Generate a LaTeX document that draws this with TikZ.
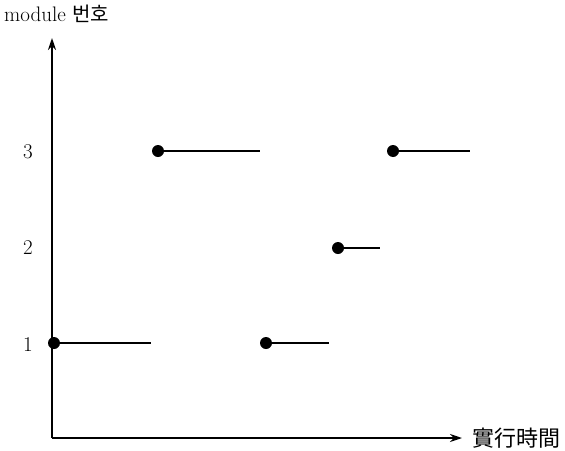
\documentclass[tikz,border=0pt]{standalone}
\usepackage{fontspec}
\newfontfamily\cjk{Noto Sans CJK KR}
\usetikzlibrary{arrows.meta}
\begin{document}
\begin{tikzpicture}[x=1pt,y=-1pt,
  axis/.style={line width=1.8pt,-{Stealth[length=12pt,width=8pt]}},
  seg/.style={line width=1.8pt},
  dot/.style={circle,fill=black,inner sep=0pt,minimum size=12pt},
  lab/.style={font=\fontsize{21}{21}\selectfont,inner sep=0pt}]
\useasboundingbox (0,0) rectangle (565,450);
\coordinate (o) at (52,438);
\coordinate (ytip) at (52,38);
\coordinate (xtip) at (462,438);
\draw[axis] (o) -- (ytip);
\draw[axis] (o) -- (xtip);
\node[lab,anchor=base west] (ylab) at (4,21) {module {\cjk\fontsize{20}{20}\selectfont 번호}};
\node[lab,anchor=west] (xlab) at (472,438) {\cjk\fontsize{22}{22}\selectfont 實行時間};
\node[lab] (l3) at (28,152) {3};
\node[lab] (l2) at (28,248) {2};
\node[lab] (l1) at (28,345) {1};
% segments
\node[dot] (a1) at (54,343) {};
\coordinate (a2) at (151,343);
\node[dot] (b1) at (158,151) {};
\coordinate (b2) at (260,151);
\node[dot] (c1) at (266,343) {};
\coordinate (c2) at (329,343);
\node[dot] (d1) at (338,248) {};
\coordinate (d2) at (380,248);
\node[dot] (e1) at (393,151) {};
\coordinate (e2) at (470,151);
\draw[seg] (a1.center) -- (a2);
\draw[seg] (b1.center) -- (b2);
\draw[seg] (c1.center) -- (c2);
\draw[seg] (d1.center) -- (d2);
\draw[seg] (e1.center) -- (e2);
\end{tikzpicture}
\end{document}
